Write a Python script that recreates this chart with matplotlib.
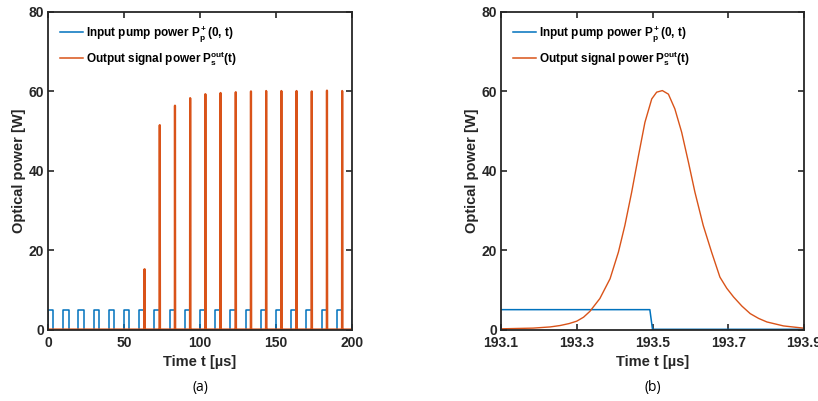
import numpy as np
import matplotlib
matplotlib.use('Agg')
import matplotlib.pyplot as plt

plt.rcParams['font.family'] = ['Liberation Sans', 'DejaVu Sans']
plt.rcParams['mathtext.fontset'] = 'custom'
plt.rcParams['mathtext.rm'] = 'Liberation Sans:bold'
plt.rcParams['mathtext.it'] = 'Liberation Sans:bold'
plt.rcParams['mathtext.bf'] = 'Liberation Sans:bold'

# (a) pump pulse train and amplified signal spikes
pump_start = [0, 10, 20, 30, 40, 50, 60, 70, 80, 90, 100,
              110, 120, 130, 140, 150, 160, 170, 180, 190, 200]
pump_width = 3.5     # us
pump_level = 5.0     # W

spike_t = [63.53, 73.53, 83.53, 93.53, 103.53, 113.53, 123.53,
           133.53, 143.53, 153.53, 163.53, 173.53, 183.53, 193.53]
spike_peak = [15.2, 51.5, 56.4, 58.3, 59.3, 59.6, 59.8,
              60.0, 60.1, 60.1, 60.1, 60.0, 60.2, 60.1]

# (b) zoom on the last pulse
zt = [193.100, 193.185, 193.230, 193.256, 193.280, 193.300, 193.318, 193.335,
      193.361, 193.388, 193.410, 193.427, 193.445, 193.463, 193.480, 193.498,
      193.511, 193.526, 193.542, 193.559, 193.577, 193.595, 193.612, 193.634,
      193.656, 193.678, 193.696, 193.714, 193.736, 193.758, 193.780, 193.802,
      193.846, 193.898]
zsig = [0.17, 0.35, 0.65, 1.0, 1.5, 2.1, 3.1, 4.6,
        7.8, 12.8, 19.5, 26.2, 34.6, 43.8, 52.2, 58.1,
        59.8, 60.2, 59.3, 55.6, 49.7, 42.1, 34.6, 26.2,
        19.5, 13.2, 10.4, 8.2, 5.9, 4.0, 2.8, 1.9,
        0.9, 0.35]
zpump_t = [193.1, 193.493, 193.500, 193.9]
zpump = [5.0, 5.0, 0.05, 0.05]

c_blue = '#0072BD'
c_orange = '#D95319'

# build the step / spike traces from the lists above
pt, pp = [], []
for s in pump_start:
    pt += [s, s, s + pump_width, s + pump_width]
    pp += [0, pump_level, pump_level, 0]

st, sp = [0], [0]
for t, p in zip(spike_t, spike_peak):
    st += [t - 0.12, t, t + 0.15]
    sp += [0, p, 0]
st.append(200)
sp.append(0)

fig = plt.figure(figsize=(8.18, 4.01), dpi=100)
ax1 = fig.add_axes([48/818, 1-329.5/401, 304/818, 317.5/401])
ax2 = fig.add_axes([501/818, 1-329.5/401, 303/818, 317.5/401])

ax1.plot(pt, pp, color=c_blue, lw=1.1)
ax1.plot(st, sp, color=c_orange, lw=1.6)
ax1.set_xlim(0, 200)
ax1.set_xticks([0, 50, 100, 150, 200])

ax2.plot(zpump_t, zpump, color=c_blue, lw=1.1)
ax2.plot(zt, zsig, color=c_orange, lw=1.0)
ax2.set_xlim(193.1, 193.9)
ax2.set_xticks([193.1, 193.3, 193.5, 193.7, 193.9])
ax2.set_xticklabels(['193.1', '193.3', '193.5', '193.7', '193.9'])

for ax, cap in [(ax1, '(a)'), (ax2, '(b)')]:
    ax.set_ylim(0, 80)
    ax.set_yticks([0, 20, 40, 60, 80])
    ax.tick_params(direction='in', top=True, right=True, length=4,
                   width=1.2, labelsize=10, colors='#262626')
    ax.tick_params(axis='x', pad=5)
    ax.tick_params(axis='y', pad=3)
    for lab in ax.get_xticklabels() + ax.get_yticklabels():
        lab.set_fontweight('bold')
    for sp_ in ax.spines.values():
        sp_.set_linewidth(1.3)
        sp_.set_color('#262626')
    ax.set_xlabel('Time t [µs]', fontsize=10.5, fontweight='bold', color='#262626', labelpad=3)
    ax.set_ylabel('Optical power [W]', fontsize=10.5, fontweight='bold', color='#262626', labelpad=2)
    leg = ax.legend(['Input pump power P$_p^+$(0, t)', 'Output signal power P$_s^{out}$(t)'],
                    loc='upper left', frameon=False, handlelength=2.0, handletextpad=0.25,
                    labelspacing=0.45, borderaxespad=0.6,
                    prop={'weight': 'bold', 'size': 8.5})
    for h in leg.get_lines():
        h.set_linewidth(1.1)
    bb = ax.get_position()
    fig.text((bb.x0 + bb.x1) / 2, 1 - 388/401, cap, ha='center', va='center',
             fontsize=10, family=['Open Sans', 'DejaVu Sans'])

fig.savefig('out.png', dpi=100)
